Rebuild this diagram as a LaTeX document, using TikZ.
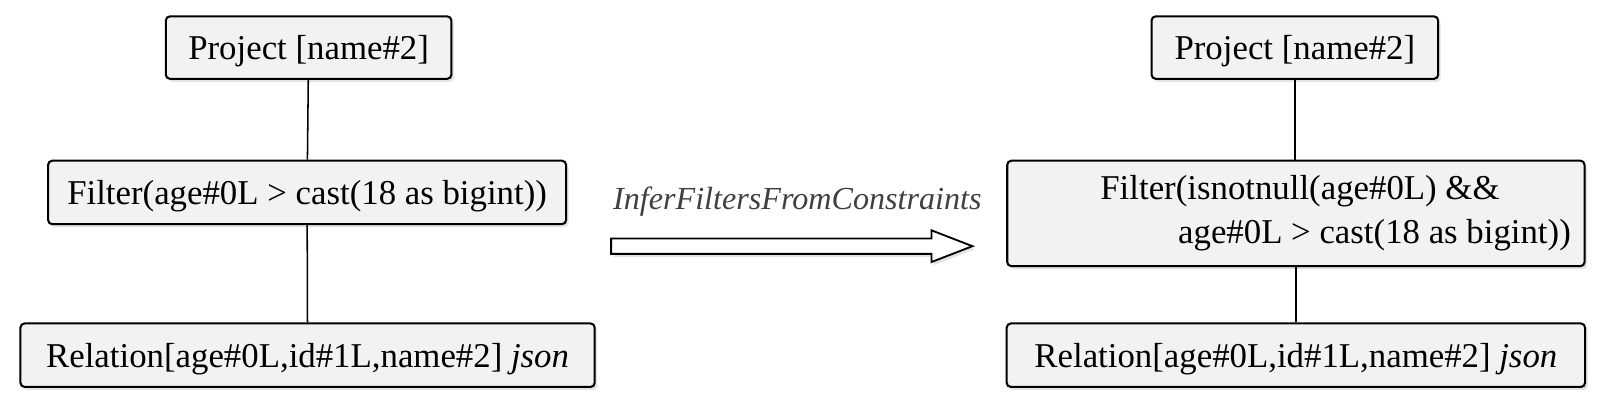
\documentclass[tikz,border=0pt]{standalone}
\usepackage{fontspec}
\setmainfont{Liberation Serif}
\usetikzlibrary{positioning, shadows}
\definecolor{BoxF}{RGB}{242,242,242}
\definecolor{DG}{RGB}{64,64,64}

\begin{document}
\begin{tikzpicture}[
  x=0.5pt, y=-0.5pt,
  op/.style={draw=black, line width=1pt, rounded corners=2pt, fill=BoxF,
    font=\fontsize{17}{21}\selectfont, inner sep=0pt, minimum height=#1*0.5pt,
    text depth=0pt,
    drop shadow={shadow xshift=1.2pt, shadow yshift=-1.5pt, opacity=0.22}},
  edge/.style={draw=black, line width=0.75pt}
]
\useasboundingbox (0,0) rectangle (1568,396);

% Plan before the rule
\node[op=61, minimum width=139.5pt] (p1) at (301.5,46.5) {Project [name\#2]};
\node[op=62, minimum width=253pt]   (f1) at (300,188)   {Filter(age\#0L > cast(18 as bigint))};
\node[op=62, minimum width=280.5pt] (r1) at (300.5,347) {Relation[age\#0L,id\#1L,name\#2] \textit{json}};

% Plan after the rule
\node[op=103, text width=278pt, inner xsep=2pt, align=flush left, text depth=] (f2) at (1266,208.5)
  {\hspace*{43.5pt}Filter(isnotnull(age\#0L) \&\&\\[0.5pt]\hspace*{81.5pt}age\#0L > cast(18 as bigint))};
\node[op=61, minimum width=140pt] (p2) at (1265,46.5) {Project [name\#2]};
\node[op=62, minimum width=282.5pt] (r2) at (1266,347) {Relation[age\#0L,id\#1L,name\#2] \textit{json}};

% Tree edges
\draw[edge] (p1) -- (f1);
\draw[edge] (f1) -- (r1);
\draw[edge] (p2.south) -- (p2.south |- f2.north);
\draw[edge] (f2.south) -- (f2.south |- r2.north);

% Rule arrow
\draw[line width=0.9pt, fill=white,
  drop shadow={shadow xshift=1.2pt, shadow yshift=-1.5pt, opacity=0.22}]
  (597,233) -- (910,233) -- (910,225) -- (950,240.5) -- (910,256)
  -- (910,248) -- (597,248) -- cycle;
\node[font=\itshape\fontsize{15.7}{18}\selectfont, text=DG] (rule) at (779,197)
  {InferFiltersFromConstraints};
\end{tikzpicture}
\end{document}
